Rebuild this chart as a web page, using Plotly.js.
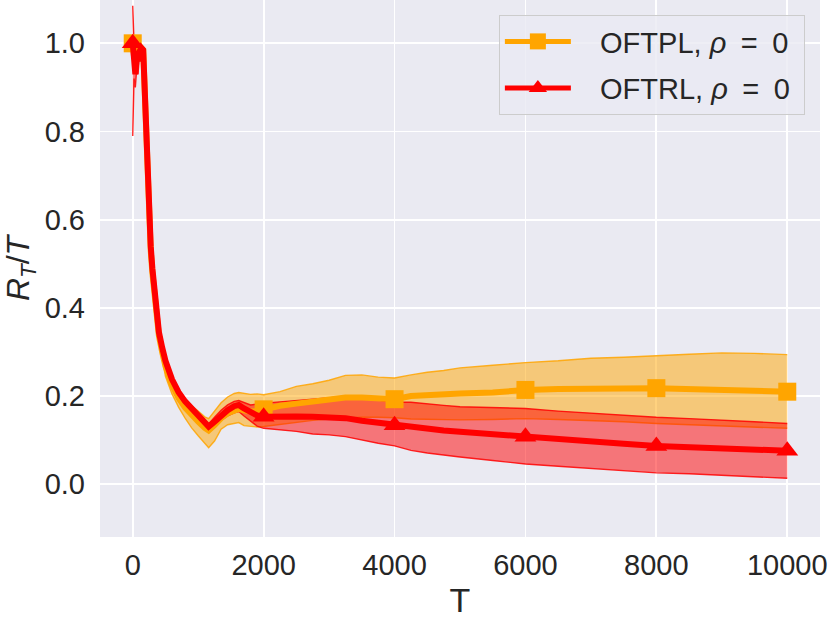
<!DOCTYPE html>
<html>
<head>
<meta charset="utf-8">
<script src="https://cdn.plot.ly/plotly-3.0.1.min.js"></script>
<style>html,body{margin:0;padding:0;background:#fff;}#chart{width:830px;height:622px;}</style>
</head>
<body>
<div id="chart"></div>
<script>
// Horizon values T
const T = [0, 20, 40, 60, 80, 100, 130, 160, 180, 200, 225, 250, 275, 300, 350, 400, 450, 500, 600, 700, 800, 900, 1000, 1100, 1160, 1250, 1350, 1450, 1550, 1620, 1700, 1800, 1900, 2000, 2250, 2500, 2750, 3000, 3250, 3500, 3750, 4000, 4250, 4500, 4750, 5000, 5500, 6000, 6500, 7000, 7500, 8000, 8500, 9000, 9500, 10000];

// OFTPL, rho = 0
const oftplMean = [1.0, 0.97, 0.98, 0.97, 0.975, 0.985, 0.99, 0.985, 0.89, 0.78, 0.68, 0.59, 0.53, 0.48, 0.39, 0.337, 0.3, 0.268, 0.226, 0.196, 0.174, 0.156, 0.142, 0.128, 0.122, 0.134, 0.15, 0.161, 0.168, 0.171, 0.168, 0.165, 0.166, 0.17, 0.178, 0.183, 0.188, 0.193, 0.197, 0.197, 0.195, 0.193, 0.2, 0.203, 0.205, 0.206, 0.208, 0.214, 0.216, 0.218, 0.217, 0.218, 0.216, 0.214, 0.212, 0.21];
const oftplUpper = [1.01, 0.99, 0.99, 0.98, 0.985, 0.99, 0.995, 0.99, 0.9, 0.79, 0.69, 0.6, 0.54, 0.49, 0.4, 0.347, 0.312, 0.282, 0.243, 0.214, 0.194, 0.178, 0.166, 0.153, 0.149, 0.165, 0.185, 0.198, 0.206, 0.208, 0.206, 0.204, 0.205, 0.203, 0.21, 0.222, 0.228, 0.236, 0.247, 0.248, 0.243, 0.241, 0.248, 0.254, 0.258, 0.264, 0.27, 0.276, 0.28, 0.286, 0.288, 0.292, 0.295, 0.298, 0.297, 0.294];
const oftplLower = [0.99, 0.95, 0.96, 0.96, 0.965, 0.975, 0.985, 0.975, 0.88, 0.77, 0.67, 0.58, 0.52, 0.47, 0.38, 0.327, 0.285, 0.245, 0.205, 0.175, 0.15, 0.128, 0.11, 0.092, 0.083, 0.098, 0.125, 0.135, 0.138, 0.14, 0.133, 0.131, 0.13, 0.131, 0.136, 0.14, 0.145, 0.148, 0.15, 0.152, 0.152, 0.151, 0.148, 0.147, 0.146, 0.146, 0.147, 0.149, 0.147, 0.145, 0.142, 0.138, 0.135, 0.132, 0.129, 0.127];

// OFTRL, rho = 0
const oftrlMean = [1.0, 0.95, 0.93, 0.97, 0.96, 0.98, 0.99, 0.985, 0.9, 0.79, 0.69, 0.6, 0.54, 0.49, 0.4, 0.345, 0.31, 0.28, 0.238, 0.209, 0.188, 0.171, 0.155, 0.14, 0.131, 0.142, 0.156, 0.168, 0.177, 0.18, 0.172, 0.162, 0.156, 0.153, 0.155, 0.154, 0.153, 0.152, 0.15, 0.144, 0.139, 0.134, 0.129, 0.126, 0.122, 0.119, 0.113, 0.108, 0.102, 0.097, 0.092, 0.087, 0.085, 0.082, 0.079, 0.076];
const oftrlUpper = [1.085, 1.0, 0.99, 1.0, 0.99, 0.995, 0.995, 0.99, 0.905, 0.795, 0.695, 0.605, 0.545, 0.495, 0.405, 0.35, 0.315, 0.285, 0.243, 0.214, 0.193, 0.176, 0.16, 0.146, 0.137, 0.152, 0.168, 0.18, 0.188, 0.19, 0.186, 0.18, 0.182, 0.184, 0.187, 0.19, 0.193, 0.196, 0.199, 0.196, 0.191, 0.186, 0.186, 0.182, 0.179, 0.176, 0.174, 0.172, 0.166, 0.161, 0.156, 0.152, 0.149, 0.146, 0.142, 0.138];
const oftrlLower = [0.79, 0.92, 0.9, 0.94, 0.93, 0.965, 0.985, 0.98, 0.895, 0.785, 0.685, 0.595, 0.535, 0.485, 0.395, 0.34, 0.305, 0.275, 0.233, 0.204, 0.183, 0.166, 0.15, 0.134, 0.125, 0.134, 0.146, 0.155, 0.162, 0.165, 0.155, 0.143, 0.132, 0.127, 0.123, 0.12, 0.114, 0.112, 0.108, 0.1, 0.093, 0.087, 0.077, 0.071, 0.066, 0.062, 0.054, 0.046, 0.041, 0.036, 0.031, 0.026, 0.024, 0.021, 0.017, 0.0136];

const xTicks = [0, 2000, 4000, 6000, 8000, 10000];
const yTicks = [0.0, 0.2, 0.4, 0.6, 0.8, 1.0];
const yTickText = ['0.0', '0.2', '0.4', '0.6', '0.8', '1.0'];
const markEvery = 2000;
const names = ['&nbsp;&nbsp;&nbsp;OFTPL, <i>ρ</i>&#8194;=&#8194;0&nbsp;', '&nbsp;&nbsp;&nbsp;OFTRL, <i>ρ</i>&#8194;=&#8194;0&nbsp;'];

const ORANGE = '#FFA500';
const RED = '#FF0000';

function pick(arr) { return arr.filter((v, i) => T[i] % markEvery === 0); }
const Tm = pick(T);

const traces = [
  // bands (drawn beneath lines)
  {x: T, y: oftplLower, mode: 'lines', line: {color: 'rgba(255,165,0,0.85)', width: 1.4}, showlegend: false, hoverinfo: 'skip'},
  {x: T, y: oftplUpper, mode: 'lines', fill: 'tonexty', fillcolor: 'rgba(255,165,0,0.5)', line: {color: 'rgba(255,165,0,0.85)', width: 1.4}, showlegend: false, hoverinfo: 'skip'},
  {x: T, y: oftrlLower, mode: 'lines', line: {color: 'rgba(255,0,0,0.85)', width: 1.4}, showlegend: false, hoverinfo: 'skip'},
  {x: T, y: oftrlUpper, mode: 'lines', fill: 'tonexty', fillcolor: 'rgba(255,0,0,0.5)', line: {color: 'rgba(255,0,0,0.85)', width: 1.4}, showlegend: false, hoverinfo: 'skip'},
  // mean lines
  {x: T, y: oftplMean, mode: 'lines', line: {color: ORANGE, width: 6}, showlegend: false},
  {x: Tm, y: pick(oftplMean), mode: 'markers', marker: {color: ORANGE, symbol: 'square', size: 18, line: {width: 0}}, showlegend: false},
  {x: T, y: oftrlMean, mode: 'lines', line: {color: RED, width: 6}, showlegend: false},
  {x: Tm, y: pick(oftrlMean), mode: 'markers', marker: {color: RED, symbol: 'triangle-up', size: 19, line: {width: 0}}, showlegend: false},
  // legend entries
  {x: [null], y: [null], mode: 'lines+markers', name: names[0], legendgroup: 'a', line: {color: ORANGE, width: 5}, marker: {color: ORANGE, symbol: 'square', size: 18}},
  {x: [null], y: [null], mode: 'lines+markers', name: names[1], legendgroup: 'b', line: {color: RED, width: 5}, marker: {color: RED, symbol: 'triangle-up', size: 18}}
];

const FONT = 'Liberation Sans, Arial, sans-serif';
const layout = {
  width: 830, height: 622,
  margin: {l: 100, r: 10, t: 0, b: 85, pad: 0},
  paper_bgcolor: '#FFFFFF',
  plot_bgcolor: '#EAEAF2',
  font: {family: FONT, size: 29, color: '#262626'},
  showlegend: true,
  legend: {
    x: 0.979, y: 0.972, xanchor: 'right', yanchor: 'top',
    bgcolor: 'rgba(234,234,242,0.8)', bordercolor: '#CCCCCC', borderwidth: 1,
    font: {family: FONT, size: 29, color: '#262626'},
    traceorder: 'grouped', tracegroupgap: 6, itemwidth: 66
  },
  xaxis: {
    range: [-500, 10500], tickvals: xTicks, ticktext: xTicks.map(String),
    showgrid: true, gridcolor: '#FFFFFF', gridwidth: 1.8, zeroline: false, showline: false,
    ticks: '', ticklabelstandoff: 8, tickfont: {family: FONT, size: 29, color: '#262626'},
    title: {text: 'T', font: {family: FONT, size: 34, color: '#262626'}, standoff: 8}
  },
  yaxis: {
    range: [-0.1195, 1.0982], tickvals: yTicks, ticktext: yTickText,
    showgrid: true, gridcolor: '#FFFFFF', gridwidth: 1.8, zeroline: false, showline: false,
    ticks: '', ticklabelstandoff: 14, tickfont: {family: FONT, size: 29, color: '#262626'},
    title: {text: '<i>R</i><sub><i>T</i></sub>/<i>T</i>', font: {family: FONT, size: 32, color: '#262626'}, standoff: 20}
  }
};

Plotly.newPlot('chart', traces, layout, {displayModeBar: false, staticPlot: true});
</script>
</body>
</html>
